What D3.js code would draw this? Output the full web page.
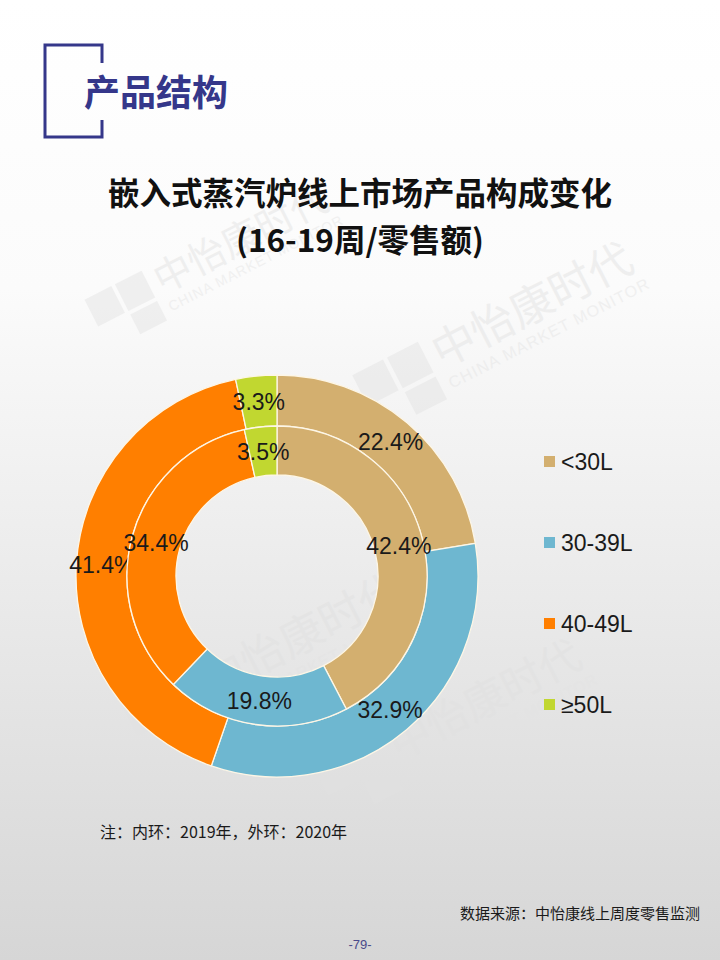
<!DOCTYPE html>
<html>
<head>
<meta charset="utf-8">
<title>产品结构</title>
<style>
  html, body { margin: 0; padding: 0; }
  body { width: 720px; height: 960px; overflow: hidden; }
  svg { display: block; font-family: "Liberation Sans", Arial, "Noto Sans CJK SC", sans-serif; }
</style>
</head>
<body>
<svg id="chart" width="720" height="960"></svg>
<script src="https://cdn.jsdelivr.net/npm/d3@7/dist/d3.min.js"></script>
<script>
// categories and values (inner ring = 2019, outer ring = 2020)
var categories = ["<30L", "30-39L", "40-49L", "≥50L"];
var values2019 = [42.4, 19.8, 34.4, 3.5];
var values2020 = [22.4, 32.9, 41.4, 3.3];
var colors = ["#D3AF6F", "#6EB7D0", "#FF7F00", "#C1D730"];

var svg = d3.select("#chart");
var cjk = '"Noto Sans CJK SC", "Liberation Sans", sans-serif';

// background gradient
var defs = svg.append("defs");
var grad = defs.append("linearGradient")
    .attr("id", "bg")
    .attr("x1", 0).attr("y1", 0).attr("x2", 0).attr("y2", 1);
grad.append("stop").attr("offset", "0%").attr("stop-color", "#ffffff");
grad.append("stop").attr("offset", "30%").attr("stop-color", "#fbfbfb");
grad.append("stop").attr("offset", "100%").attr("stop-color", "#d6d6d6");
svg.append("rect").attr("width", 720).attr("height", 960).attr("fill", "url(#bg)");

// faint watermarks
var marks = [
    { x: 100, y: 330, r: -27, s: 1 },
    { x: 370, y: 410, r: -27, s: 1.15 },
    { x: 140, y: 740, r: -27, s: 1.15 },
    { x: 330, y: 800, r: -27, s: 1.1 }
];
var wm = svg.selectAll("g.wm")
    .data(marks)
    .enter()
    .append("g")
    .attr("class", "wm")
    .attr("opacity", 0.45)
    .attr("transform", function(d) {
        return "translate(" + d.x + "," + d.y + ") rotate(" + d.r + ") scale(" + d.s + ")";
    });
wm.append("rect").attr("x", 0).attr("y", -34).attr("width", 30).attr("height", 30).attr("fill", "#e2e2e2");
wm.append("rect").attr("x", 34).attr("y", -34).attr("width", 30).attr("height", 30).attr("fill", "#e2e2e2");
wm.append("rect").attr("x", 34).attr("y", 0).attr("width", 30).attr("height", 22).attr("fill", "#e2e2e2");
wm.append("text")
    .attr("x", 72).attr("y", -4)
    .style("font-family", cjk)
    .style("font-size", "38px")
    .attr("fill", "#e0e0e0")
    .text("中怡康时代");
wm.append("text")
    .attr("x", 72).attr("y", 16)
    .style("font-size", "14px")
    .attr("fill", "#e3e3e3")
    .style("letter-spacing", "1px")
    .text("CHINA MARKET MONITOR");

// header bracket
var navy = "#35378A";
svg.append("path")
    .attr("d", "M102,63 V45 H45 V137 H102 V120")
    .attr("fill", "none")
    .attr("stroke", navy)
    .attr("stroke-width", 3);
svg.append("text")
    .attr("x", 84).attr("y", 106)
    .style("font-family", cjk)
    .style("font-size", "36px")
    .style("font-weight", "bold")
    .attr("fill", navy)
    .text("产品结构");

// chart title
svg.append("text")
    .attr("x", 360).attr("y", 205)
    .attr("text-anchor", "middle")
    .style("font-family", cjk)
    .style("font-size", "31.5px")
    .style("font-weight", "bold")
    .attr("fill", "#111")
    .text("嵌入式蒸汽炉线上市场产品构成变化");
svg.append("text")
    .attr("x", 360).attr("y", 252)
    .attr("text-anchor", "middle")
    .style("font-family", cjk)
    .style("font-size", "31.5px")
    .style("font-weight", "bold")
    .attr("fill", "#111")
    .text("(16-19周/零售额)");

// donut
var cx = 277, cy = 576;
var rHole = 101, rMid = 150, rOuter = 201;

var pie = d3.pie().sort(null).value(function(d) { return d; });
var innerArc = d3.arc().innerRadius(rHole).outerRadius(rMid);
var outerArc = d3.arc().innerRadius(rMid).outerRadius(rOuter);

var g = svg.append("g").attr("transform", "translate(" + cx + "," + cy + ")");

function ring(values, arc, cls) {
    var slices = g.selectAll("g." + cls)
        .data(pie(values))
        .enter()
        .append("g")
        .attr("class", cls);
    slices.append("path")
        .attr("d", arc)
        .attr("fill", function(d, i) { return colors[i]; })
        .attr("stroke", "#fdf6e6")
        .attr("stroke-width", 1.3);
    return slices;
}

var outerSlices = ring(values2020, outerArc, "outer");
var innerSlices = ring(values2019, innerArc, "inner");

function labels(slices, arc) {
    slices.append("text")
        .attr("transform", function(d) { return "translate(" + arc.centroid(d) + ")"; })
        .attr("text-anchor", "middle")
        .attr("dy", "0.36em")
        .style("font-size", "23px")
        .attr("fill", "#1a1a1a")
        .text(function(d) { return d.value.toFixed(1) + "%"; });
}
labels(outerSlices, outerArc);
labels(innerSlices, innerArc);

// legend
var legendY = d3.scalePoint().domain(categories).range([462, 705]);
var legend = svg.selectAll("g.legend")
    .data(categories)
    .enter()
    .append("g")
    .attr("class", "legend")
    .attr("transform", function(d) { return "translate(544," + legendY(d) + ")"; });
legend.append("rect")
    .attr("x", 0).attr("y", -6)
    .attr("width", 11).attr("height", 11)
    .attr("fill", function(d, i) { return colors[i]; });
legend.append("text")
    .attr("x", 17).attr("y", 0)
    .attr("dy", "0.36em")
    .style("font-size", "23px")
    .attr("fill", "#1a1a1a")
    .text(function(d) { return d; });

// notes
svg.append("text")
    .attr("x", 100).attr("y", 838)
    .style("font-family", cjk)
    .style("font-size", "16px")
    .attr("fill", "#1a1a1a")
    .text("注：内环：2019年，外环：2020年");
svg.append("text")
    .attr("x", 700).attr("y", 919)
    .attr("text-anchor", "end")
    .style("font-family", cjk)
    .style("font-size", "15px")
    .attr("fill", "#1a1a1a")
    .text("数据来源：中怡康线上周度零售监测");
svg.append("text")
    .attr("x", 360).attr("y", 949)
    .attr("text-anchor", "middle")
    .style("font-size", "13px")
    .attr("fill", "#4a4a8a")
    .text("-79-");
</script>
</body>
</html>
